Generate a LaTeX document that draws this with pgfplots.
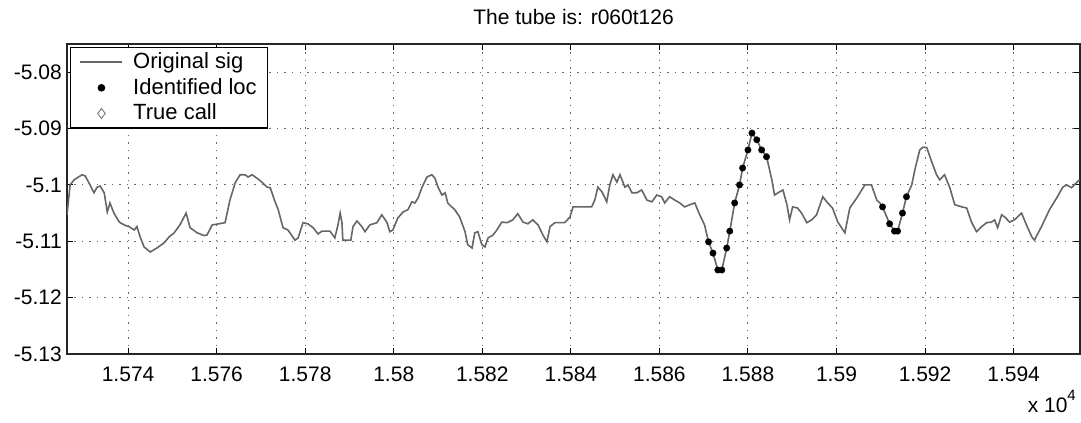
\documentclass[border=0pt]{standalone}
\usepackage{fontspec}
\setmainfont{Liberation Sans}
\usepackage{pgfplots}
\pgfplotsset{compat=1.18}
\begin{document}
\fontsize{21}{25}\selectfont
\begin{tikzpicture}[font=\fontsize{21}{25}\selectfont]
\begin{axis}[
  scale only axis, width=1013pt, height=310pt,
  xmin=15726.2, xmax=15955, ymin=-5.13, ymax=-5.075,
  scaled x ticks=false, scaled y ticks=false,
  xtick={15740,15760,15780,15800,15820,15840,15860,15880,15900,15920,15940},
  xticklabels={1.574,1.576,1.578,1.58,1.582,1.584,1.586,1.588,1.59,1.592,1.594},
  ytick={-5.13,-5.12,-5.11,-5.1,-5.09,-5.08},
  yticklabels={-5.13,-5.12,-5.11,-5.1,-5.09,-5.08},
  xticklabel style={yshift=-6pt},
  yticklabel style={xshift=2pt},
  major tick length=6pt,
  tick style={black, line width=1pt},
  axis line style={black!85, line width=1.4pt},
  grid=major,
  major grid style={black!60, line width=1pt, dash pattern=on 1.5pt off 6pt},
  title={The tube is: r060t126},
  title style={yshift=6pt},
  legend cell align=left,
  legend style={at={(0.003,0.99)}, anchor=north west, draw=black, line width=1.2pt, fill=white,
    font=\fontsize{22}{26}\selectfont, row sep=2.5pt, column sep=8pt, inner xsep=9pt, inner ysep=3pt},
  legend image code/.code={\draw[mark repeat=2,mark phase=2,#1] plot coordinates {(0pt,0pt) (21pt,0pt) (42pt,0pt)};},
]
\addplot[black!60, line width=1.6pt] coordinates {
(15726.2,-5.1053)(15726.9,-5.1000)(15727.8,-5.0991)(15729.6,-5.0982)(15730.3,-5.0984)
(15731.4,-5.1000)(15732.3,-5.1014)(15733.0,-5.1004)(15733.7,-5.1002)(15734.6,-5.1014)
(15735.3,-5.1048)(15735.9,-5.1032)(15736.8,-5.1050)(15738.0,-5.1066)(15739.1,-5.1071)
(15740.2,-5.1074)(15741.4,-5.1080)(15742.0,-5.1074)(15742.7,-5.1092)(15743.6,-5.1110)
(15745.0,-5.1119)(15746.5,-5.1112)(15748.1,-5.1103)(15749.3,-5.1092)(15750.4,-5.1085)
(15751.7,-5.1071)(15753.1,-5.1050)(15754.0,-5.1076)(15755.6,-5.1085)(15757.2,-5.1090)
(15757.8,-5.1089)(15759.0,-5.1071)(15760.5,-5.1069)(15761.9,-5.1067)(15763.0,-5.1027)
(15764.2,-5.0996)(15765.3,-5.0982)(15766.4,-5.0982)(15767.1,-5.0986)(15768.0,-5.0982)
(15769.1,-5.0988)(15770.2,-5.0995)(15771.4,-5.1004)(15772.1,-5.1005)(15773.2,-5.1030)
(15773.9,-5.1044)(15775.0,-5.1076)(15776.1,-5.1080)(15777.7,-5.1098)(15778.4,-5.1094)
(15779.5,-5.1067)(15780.6,-5.1069)(15781.8,-5.1076)(15782.9,-5.1087)(15783.8,-5.1082)
(15785.6,-5.1082)(15786.7,-5.1094)(15787.4,-5.1071)(15787.9,-5.1050)(15788.3,-5.1067)
(15788.5,-5.1098)(15789.7,-5.1098)(15790.3,-5.1098)(15790.8,-5.1074)(15791.7,-5.1064)
(15792.8,-5.1074)(15793.5,-5.1083)(15794.6,-5.1071)(15796.2,-5.1067)(15797.3,-5.1053)
(15798.5,-5.1067)(15799.1,-5.1083)(15799.8,-5.1080)(15800.9,-5.1059)(15802.1,-5.1048)
(15803.2,-5.1044)(15804.1,-5.1030)(15804.8,-5.1032)(15805.5,-5.1023)(15806.4,-5.1004)
(15807.5,-5.0986)(15808.6,-5.0982)(15809.3,-5.0988)(15810.0,-5.1004)(15810.9,-5.1018)
(15811.6,-5.1014)(15812.2,-5.1032)(15813.1,-5.1039)(15813.8,-5.1044)(15814.9,-5.1057)
(15816.1,-5.1083)(15816.7,-5.1106)(15817.7,-5.1112)(15818.3,-5.1085)(15819.0,-5.1083)
(15819.9,-5.1106)(15820.6,-5.1110)(15821.3,-5.1094)(15822.4,-5.1089)(15823.3,-5.1080)
(15824.4,-5.1066)(15825.6,-5.1067)(15826.9,-5.1062)(15828.0,-5.1051)(15829.2,-5.1066)
(15830.3,-5.1069)(15831.4,-5.1062)(15832.6,-5.1071)(15833.7,-5.1089)(15834.6,-5.1101)
(15835.3,-5.1074)(15836.4,-5.1067)(15838.6,-5.1067)(15839.8,-5.1057)(15840.5,-5.1039)
(15844.7,-5.1039)(15845.4,-5.1027)(15846.1,-5.1004)(15847.0,-5.1012)(15847.7,-5.1023)
(15848.1,-5.1030)(15848.8,-5.1000)(15849.5,-5.0982)(15850.4,-5.0995)(15851.1,-5.0982)
(15852.2,-5.1004)(15852.9,-5.1000)(15853.8,-5.1014)(15854.9,-5.1014)(15856.0,-5.1009)
(15857.2,-5.1027)(15858.3,-5.1030)(15859.4,-5.1018)(15860.5,-5.1021)(15861.2,-5.1032)
(15862.3,-5.1021)(15863.5,-5.1027)(15864.6,-5.1032)(15865.7,-5.1039)(15866.9,-5.1035)
(15868.0,-5.1032)(15869.1,-5.1053)(15870.2,-5.1071)(15871.1,-5.1101)(15872.1,-5.1121)
(15873.2,-5.1151)(15874.1,-5.1151)(15875.2,-5.1112)(15875.9,-5.1082)(15877.0,-5.1032)
(15878.1,-5.1000)(15878.8,-5.0970)(15880.0,-5.0938)(15880.9,-5.0908)(15882.0,-5.0920)
(15883.1,-5.0938)(15884.2,-5.0950)(15885.4,-5.0991)(15886.0,-5.1018)(15887.2,-5.1012)
(15887.9,-5.1009)(15888.8,-5.1035)(15889.4,-5.1062)(15890.1,-5.1039)(15891.2,-5.1041)
(15892.1,-5.1050)(15893.3,-5.1067)(15894.4,-5.1062)(15895.5,-5.1053)(15896.9,-5.1021)
(15898.0,-5.1032)(15899.1,-5.1041)(15900.3,-5.1066)(15901.9,-5.1085)(15903.0,-5.1041)
(15904.6,-5.1023)(15906.4,-5.1000)(15907.9,-5.1000)(15909.1,-5.1027)(15909.8,-5.1032)
(15910.4,-5.1039)(15912.0,-5.1069)(15913.1,-5.1082)(15913.8,-5.1082)(15914.9,-5.1050)
(15915.8,-5.1021)(15917.0,-5.1000)(15917.7,-5.0973)(15918.8,-5.0938)(15919.5,-5.0933)
(15920.4,-5.0934)(15921.5,-5.0959)(15922.6,-5.0982)(15923.3,-5.0991)(15924.4,-5.0982)
(15925.6,-5.1005)(15926.7,-5.1035)(15928.3,-5.1039)(15929.4,-5.1041)(15930.5,-5.1066)
(15931.6,-5.1083)(15932.8,-5.1074)(15933.9,-5.1067)(15935.0,-5.1066)(15935.7,-5.1062)
(15936.4,-5.1076)(15937.3,-5.1053)(15938.0,-5.1057)(15939.1,-5.1066)(15940.2,-5.1062)
(15941.8,-5.1050)(15942.9,-5.1071)(15944.1,-5.1092)(15944.7,-5.1098)(15946.3,-5.1074)
(15948.1,-5.1044)(15949.9,-5.1021)(15951.1,-5.1004)(15952.0,-5.1000)(15953.1,-5.1005)
(15954.2,-5.0996)(15954.9,-5.0991)
};
\addlegendentry{Original sig}
\addplot[only marks, mark=*, mark size=3.2pt, black] coordinates {
(15871.1,-5.1101)(15872.1,-5.1121)(15873.2,-5.1151)(15874.1,-5.1151)(15875.2,-5.1112)
(15875.9,-5.1082)(15877.0,-5.1032)(15878.1,-5.1000)(15878.8,-5.0970)(15880.0,-5.0938)
(15880.9,-5.0908)(15882.0,-5.0920)(15883.1,-5.0938)(15884.2,-5.0950)
(15910.4,-5.1039)(15912.0,-5.1069)(15913.1,-5.1082)(15913.8,-5.1082)(15914.9,-5.1050)
(15915.8,-5.1021)
};
\addlegendentry{Identified loc}
\addlegendimage{only marks, mark=diamond, mark size=5pt, black!50, line width=1pt}
\addlegendentry{True call}
\end{axis}
\node[anchor=north east, inner sep=0pt] at ([shift={(-4pt,-36pt)}]current axis.south east) {x 10\raisebox{1.1ex}{\fontsize{15}{15}\selectfont 4}};
\pgfresetboundingbox
\path ([shift={(-67pt,-69pt)}]current axis.south west) rectangle ([shift={(1pt,44pt)}]current axis.north east);
\end{tikzpicture}
\end{document}
